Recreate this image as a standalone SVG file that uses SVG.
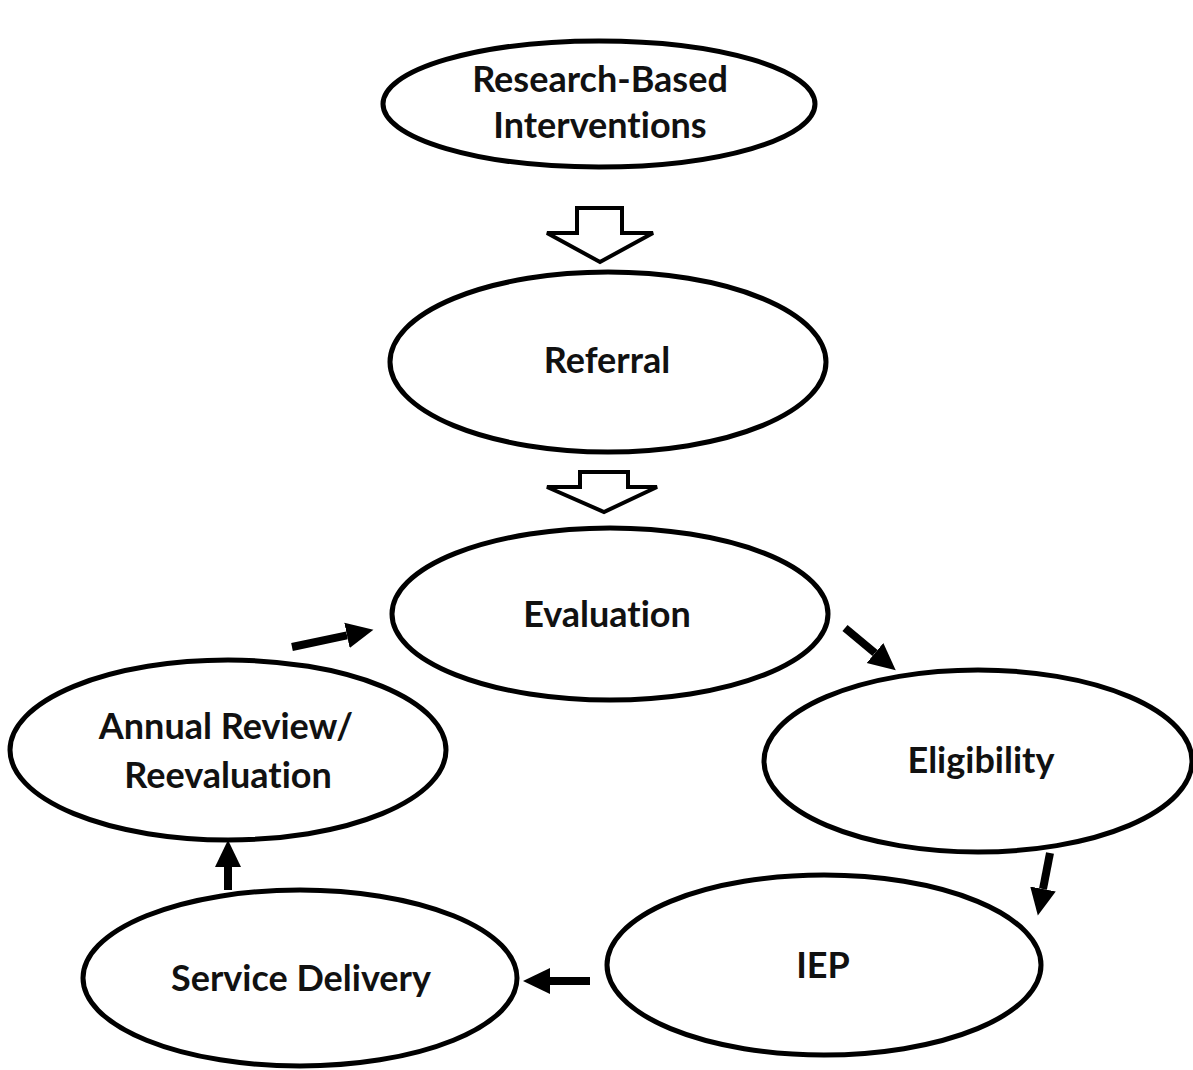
<svg xmlns="http://www.w3.org/2000/svg" width="1193" height="1070" viewBox="0 0 1193 1070">
<style>
.node ellipse{fill:#fff;stroke:#000;stroke-width:5}
.node text{font-family:Lato,"Open Sans","Liberation Sans",sans-serif;font-weight:bold;font-size:36px;fill:#111;text-anchor:middle;font-variant-ligatures:none}
.hollow{fill:#fff;stroke:#000;stroke-width:4;stroke-linejoin:miter}
.solid{stroke:#000;stroke-width:8;fill:none}
</style>
<defs>
<marker id="ah" markerUnits="userSpaceOnUse" markerWidth="30" markerHeight="30" refX="0" refY="14" orient="auto">
<path d="M0,1 L27,14 L0,27 Z" fill="#000"/>
</marker>
</defs>
<rect width="1193" height="1070" fill="#fff"/>
<g id="connectors">
<polygon class="hollow" points="577,208 622,208 622,233 653,233 600,262 547,233 577,233"/>
<polygon class="hollow" points="580,472 628,472 628,487 657,487 604,512 547,487 580,487"/>
<line class="solid" x1="292" y1="647" x2="347" y2="635.4" marker-end="url(#ah)"/>
<line class="solid" x1="845" y1="628" x2="875" y2="653" marker-end="url(#ah)"/>
<line class="solid" x1="1050" y1="853" x2="1043" y2="889" marker-end="url(#ah)"/>
<line class="solid" x1="590" y1="981" x2="550" y2="981" marker-end="url(#ah)"/>
<line class="solid" x1="228" y1="890" x2="228" y2="867" marker-end="url(#ah)"/>
</g>
<g id="research" class="node">
<ellipse cx="599" cy="104" rx="216" ry="63"/>
<text x="600" y="92">Research-Based</text>
<text x="600" y="138">Interventions</text>
</g>
<g id="referral" class="node">
<ellipse cx="608" cy="362" rx="218" ry="90"/>
<text x="607" y="373">Referral</text>
</g>
<g id="evaluation" class="node">
<ellipse cx="610" cy="614" rx="218" ry="86"/>
<text x="607" y="627">Evaluation</text>
</g>
<g id="annual" class="node">
<ellipse cx="228" cy="750" rx="218" ry="90"/>
<text x="226" y="739">Annual Review/</text>
<text x="228" y="788">Reevaluation</text>
</g>
<g id="eligibility" class="node">
<ellipse cx="978" cy="761" rx="214" ry="91"/>
<text x="981" y="773">Eligibility</text>
</g>
<g id="iep" class="node">
<ellipse cx="824" cy="965" rx="217" ry="90"/>
<text x="823" y="978">IEP</text>
</g>
<g id="service" class="node">
<ellipse cx="300" cy="978" rx="217" ry="88"/>
<text x="301" y="991">Service Delivery</text>
</g>
</svg>
